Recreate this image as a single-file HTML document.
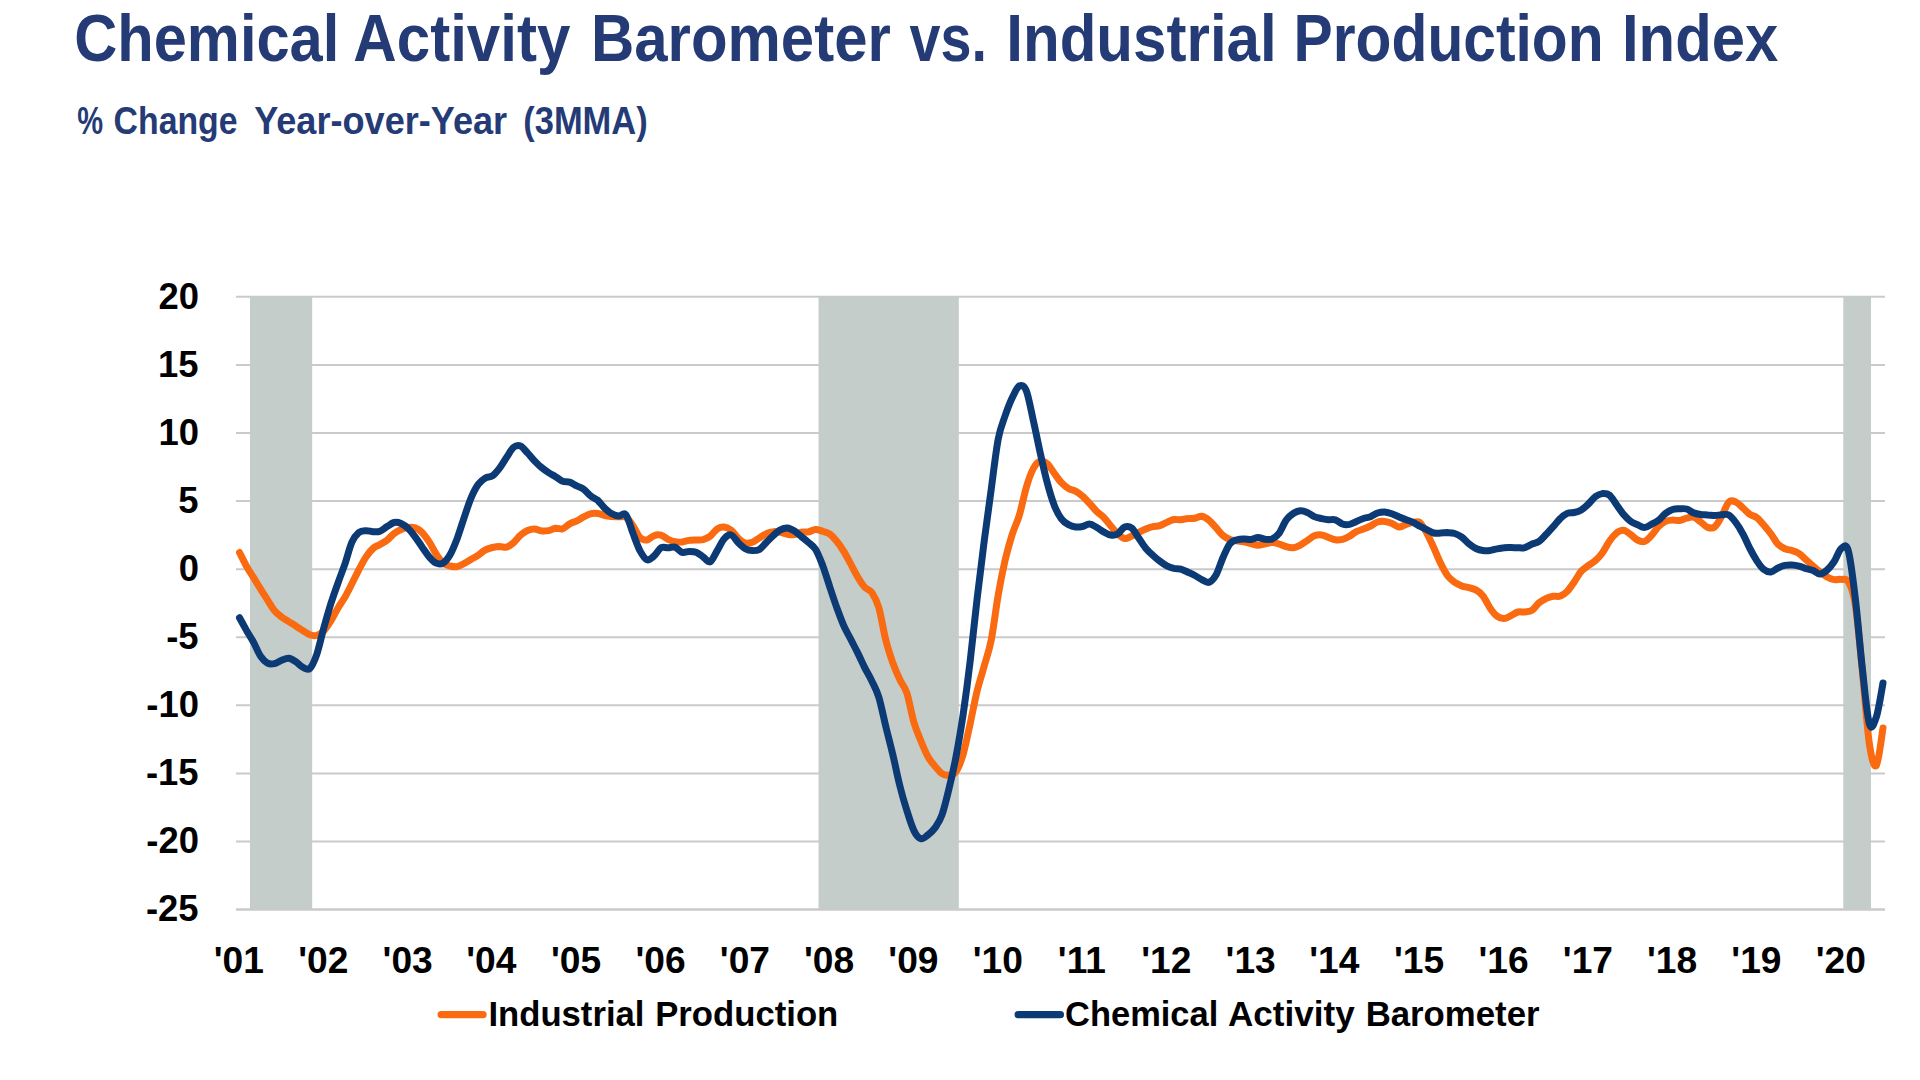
<!DOCTYPE html>
<html lang="en"><head><meta charset="utf-8"><title>Chemical Activity Barometer vs. Industrial Production Index</title>
<style>html,body{margin:0;padding:0;background:#fff}body{width:1920px;height:1080px;overflow:hidden}svg{display:block;font-family:"Liberation Sans",sans-serif}text{white-space:pre}</style></head><body>
<svg width="1920" height="1080" viewBox="0 0 1920 1080">
<rect width="1920" height="1080" fill="#fff"/>
<g stroke="#cacaca" stroke-width="2" fill="none">
<line x1="236" y1="296.80" x2="1885" y2="296.80"/>
<line x1="236" y1="364.89" x2="1885" y2="364.89"/>
<line x1="236" y1="432.98" x2="1885" y2="432.98"/>
<line x1="236" y1="501.07" x2="1885" y2="501.07"/>
<line x1="236" y1="569.16" x2="1885" y2="569.16"/>
<line x1="236" y1="637.25" x2="1885" y2="637.25"/>
<line x1="236" y1="705.34" x2="1885" y2="705.34"/>
<line x1="236" y1="773.43" x2="1885" y2="773.43"/>
<line x1="236" y1="841.52" x2="1885" y2="841.52"/>
<line x1="236" y1="909.61" x2="1885" y2="909.61"/>
</g>
<g fill="#c5cdca">
<rect x="250" y="296.6" width="62.2" height="613.2"/>
<rect x="818.5" y="296.6" width="140.3" height="613.2"/>
<rect x="1843.3" y="296.6" width="27.7" height="613.2"/>
</g>
<line x1="236" y1="909.61" x2="1885" y2="909.61" stroke="#cacaca" stroke-width="2"/>
<path d="M239.5 552.5C240.7 554.8 244.2 562.0 246.5 566.2C248.9 570.4 251.2 573.8 253.6 577.6C255.9 581.4 258.2 585.3 260.6 589.1C262.9 592.8 265.3 596.5 267.6 600.1C269.9 603.8 272.3 607.9 274.6 610.7C277.0 613.5 279.3 615.1 281.6 617.0C284.0 618.8 286.3 620.1 288.7 621.6C291.0 623.0 293.4 624.4 295.7 625.9C298.0 627.3 300.4 629.0 302.7 630.5C305.1 632.0 307.4 634.0 309.8 634.8C312.1 635.6 314.4 636.0 316.8 635.4C319.1 634.7 321.5 633.2 323.8 630.8C326.1 628.4 328.5 624.8 330.8 621.0C333.2 617.2 335.5 612.2 337.9 608.2C340.2 604.2 342.5 601.2 344.9 597.2C347.2 593.1 349.6 588.3 351.9 583.7C354.2 579.1 356.6 574.1 358.9 569.6C361.3 565.2 363.6 560.7 365.9 557.2C368.3 553.6 370.6 550.6 373.0 548.5C375.3 546.4 377.7 545.9 380.0 544.5C382.3 543.1 384.7 542.1 387.0 540.3C389.4 538.4 391.7 535.3 394.1 533.5C396.4 531.6 398.7 530.5 401.1 529.5C403.4 528.5 405.8 527.7 408.1 527.4C410.4 527.2 412.8 527.0 415.1 527.8C417.5 528.7 419.8 530.2 422.1 532.5C424.5 534.9 426.8 538.3 429.2 541.9C431.5 545.5 433.9 550.5 436.2 554.1C438.5 557.6 440.9 561.2 443.2 563.2C445.6 565.2 447.9 565.5 450.2 566.0C452.6 566.6 454.9 567.0 457.3 566.6C459.6 566.2 462.0 564.6 464.3 563.4C466.6 562.2 469.0 560.6 471.3 559.2C473.7 557.9 476.0 556.7 478.4 555.1C480.7 553.5 483.0 551.1 485.4 549.9C487.7 548.6 490.1 548.1 492.4 547.5C494.7 547.0 497.1 546.5 499.4 546.4C501.8 546.4 504.1 547.8 506.4 547.2C508.8 546.6 511.1 544.7 513.5 542.7C515.8 540.7 518.2 537.2 520.5 535.2C522.8 533.1 525.2 531.5 527.5 530.5C529.9 529.5 532.2 528.9 534.5 529.0C536.9 529.1 539.2 530.6 541.6 530.9C543.9 531.1 546.3 531.0 548.6 530.6C550.9 530.2 553.3 528.6 555.6 528.2C558.0 527.9 560.3 529.5 562.6 528.8C565.0 528.0 567.3 525.1 569.7 523.8C572.0 522.5 574.4 522.1 576.7 521.0C579.0 519.8 581.4 518.1 583.7 516.9C586.1 515.7 588.4 514.2 590.8 513.7C593.1 513.1 595.4 513.2 597.8 513.5C600.1 513.8 602.5 514.9 604.8 515.5C607.1 516.0 609.5 516.3 611.8 516.6C614.2 516.8 616.5 516.7 618.9 516.8C621.2 516.9 623.5 515.8 625.9 517.3C628.2 518.8 630.6 522.3 632.9 525.7C635.2 529.0 637.6 535.0 639.9 537.4C642.3 539.8 644.6 540.3 647.0 540.0C649.3 539.7 651.6 536.5 654.0 535.7C656.3 534.8 658.7 534.5 661.0 535.1C663.3 535.7 665.7 538.2 668.0 539.3C670.4 540.4 672.7 541.4 675.0 541.8C677.4 542.2 679.7 542.2 682.1 542.0C684.4 541.7 686.8 540.7 689.1 540.4C691.4 540.1 693.8 540.1 696.1 540.0C698.5 539.9 700.8 540.3 703.1 539.7C705.5 539.0 707.8 537.9 710.2 536.1C712.5 534.3 714.9 530.5 717.2 529.0C719.5 527.6 721.9 526.9 724.2 527.1C726.6 527.3 728.9 528.4 731.2 530.2C733.6 532.1 735.9 536.1 738.3 538.3C740.6 540.4 743.0 542.4 745.3 543.1C747.6 543.7 750.0 543.2 752.3 542.3C754.7 541.5 757.0 539.3 759.4 537.9C761.7 536.5 764.0 534.7 766.4 533.7C768.7 532.6 771.1 531.9 773.4 531.7C775.7 531.4 778.1 531.8 780.4 532.2C782.8 532.7 785.1 533.9 787.5 534.3C789.8 534.7 792.1 535.0 794.5 534.6C796.8 534.2 799.2 532.6 801.5 532.1C803.8 531.6 806.2 532.3 808.5 531.9C810.9 531.4 813.2 529.6 815.5 529.5C817.9 529.4 820.2 530.5 822.6 531.2C824.9 532.0 827.3 532.3 829.6 533.9C831.9 535.6 834.3 538.2 836.6 541.1C839.0 543.9 841.3 547.3 843.6 551.1C846.0 554.9 848.3 559.5 850.7 563.9C853.0 568.2 855.4 573.1 857.7 577.0C860.0 580.9 862.4 584.6 864.7 587.2C867.1 589.8 869.4 589.2 871.8 592.6C874.1 596.0 876.4 599.7 878.8 607.6C881.1 615.5 883.5 630.9 885.8 640.1C888.1 649.3 890.5 656.2 892.8 662.8C895.2 669.4 897.5 674.6 899.9 679.7C902.2 684.8 904.5 686.0 906.9 693.1C909.2 700.2 911.6 714.4 913.9 722.3C916.2 730.3 918.6 735.3 920.9 741.0C923.3 746.8 925.6 752.6 928.0 756.8C930.3 761.0 932.6 763.4 935.0 766.2C937.3 769.0 939.7 772.1 942.0 773.6C944.3 775.1 946.7 775.5 949.0 775.2C951.4 774.9 953.7 775.2 956.0 771.7C958.4 768.3 960.7 762.5 963.1 754.6C965.4 746.6 967.8 734.5 970.1 723.9C972.4 713.3 974.8 700.6 977.1 691.0C979.5 681.5 981.8 674.8 984.1 666.3C986.5 657.8 988.8 652.1 991.2 640.2C993.5 628.3 995.9 608.5 998.2 595.1C1000.5 581.7 1002.9 569.9 1005.2 559.8C1007.6 549.7 1009.9 541.8 1012.2 534.4C1014.6 527.0 1016.9 523.2 1019.3 515.4C1021.6 507.6 1024.0 495.2 1026.3 487.4C1028.6 479.5 1031.0 472.9 1033.3 468.5C1035.7 464.1 1038.0 461.9 1040.3 461.2C1042.7 460.4 1045.0 461.9 1047.4 463.9C1049.7 466.0 1052.1 470.4 1054.4 473.5C1056.7 476.6 1059.1 480.2 1061.4 482.7C1063.8 485.2 1066.1 487.2 1068.5 488.6C1070.8 490.0 1073.1 489.8 1075.5 491.1C1077.8 492.3 1080.2 494.2 1082.5 496.2C1084.8 498.3 1087.2 500.9 1089.5 503.4C1091.9 505.9 1094.2 508.9 1096.5 511.2C1098.9 513.6 1101.2 514.9 1103.6 517.3C1105.9 519.7 1108.3 522.8 1110.6 525.6C1112.9 528.3 1115.3 531.7 1117.6 533.9C1120.0 536.0 1122.3 538.2 1124.7 538.6C1127.0 538.9 1129.3 537.0 1131.7 536.0C1134.0 535.0 1136.4 533.7 1138.7 532.5C1141.0 531.3 1143.4 530.0 1145.7 529.0C1148.1 528.0 1150.4 527.1 1152.8 526.6C1155.1 526.0 1157.4 526.3 1159.8 525.6C1162.1 525.0 1164.5 523.4 1166.8 522.4C1169.1 521.4 1171.5 519.9 1173.8 519.5C1176.2 519.1 1178.5 519.9 1180.8 519.8C1183.2 519.6 1185.5 518.8 1187.9 518.6C1190.2 518.3 1192.6 518.7 1194.9 518.3C1197.2 517.9 1199.6 516.0 1201.9 516.3C1204.3 516.7 1206.6 518.3 1209.0 520.2C1211.3 522.1 1213.6 525.1 1216.0 527.7C1218.3 530.2 1220.7 533.5 1223.0 535.5C1225.3 537.5 1227.7 538.6 1230.0 539.5C1232.4 540.4 1234.7 540.4 1237.0 540.8C1239.4 541.2 1241.7 541.4 1244.1 541.9C1246.4 542.4 1248.8 543.1 1251.1 543.7C1253.4 544.3 1255.8 545.3 1258.1 545.3C1260.5 545.3 1262.8 544.3 1265.2 543.8C1267.5 543.3 1269.8 542.4 1272.2 542.4C1274.5 542.4 1276.9 543.2 1279.2 544.0C1281.5 544.7 1283.9 546.1 1286.2 546.7C1288.6 547.4 1290.9 548.0 1293.2 547.7C1295.6 547.5 1297.9 546.3 1300.3 545.1C1302.6 543.9 1305.0 542.1 1307.3 540.5C1309.6 539.0 1312.0 536.8 1314.3 535.8C1316.7 534.9 1319.0 534.7 1321.3 534.9C1323.7 535.2 1326.0 536.5 1328.4 537.4C1330.7 538.2 1333.1 539.5 1335.4 539.8C1337.7 540.1 1340.1 539.9 1342.4 539.4C1344.8 538.8 1347.1 537.5 1349.5 536.2C1351.8 534.9 1354.1 532.6 1356.5 531.5C1358.8 530.3 1361.2 530.0 1363.5 529.1C1365.8 528.2 1368.2 527.1 1370.5 526.0C1372.9 524.8 1375.2 522.7 1377.5 522.0C1379.9 521.2 1382.2 521.2 1384.6 521.4C1386.9 521.6 1389.3 522.3 1391.6 523.2C1393.9 524.1 1396.3 526.7 1398.6 526.9C1401.0 527.2 1403.3 525.4 1405.7 524.7C1408.0 524.0 1410.3 522.8 1412.7 522.5C1415.0 522.1 1417.4 520.7 1419.7 522.4C1422.0 524.2 1424.4 528.6 1426.7 532.9C1429.1 537.1 1431.4 542.6 1433.8 547.8C1436.1 552.9 1438.4 559.0 1440.8 563.7C1443.1 568.4 1445.5 572.9 1447.8 576.0C1450.1 579.1 1452.5 580.7 1454.8 582.4C1457.2 584.0 1459.5 585.0 1461.8 585.9C1464.2 586.8 1466.5 587.1 1468.9 587.7C1471.2 588.4 1473.6 588.6 1475.9 589.9C1478.2 591.2 1480.6 592.8 1482.9 595.8C1485.3 598.8 1487.6 604.5 1490.0 607.9C1492.3 611.3 1494.6 614.3 1497.0 616.1C1499.3 617.9 1501.7 618.7 1504.0 618.6C1506.3 618.6 1508.7 616.8 1511.0 615.7C1513.4 614.6 1515.7 612.6 1518.0 612.0C1520.4 611.4 1522.7 612.3 1525.1 612.0C1527.4 611.7 1529.8 611.8 1532.1 610.2C1534.4 608.7 1536.8 604.6 1539.1 602.7C1541.5 600.7 1543.8 599.4 1546.2 598.4C1548.5 597.3 1550.8 596.6 1553.2 596.2C1555.5 595.9 1557.9 597.0 1560.2 596.1C1562.5 595.3 1564.9 593.7 1567.2 591.3C1569.6 589.0 1571.9 585.2 1574.2 581.9C1576.6 578.5 1578.9 573.9 1581.3 571.2C1583.6 568.5 1586.0 567.3 1588.3 565.5C1590.6 563.8 1593.0 562.8 1595.3 560.7C1597.7 558.6 1600.0 556.2 1602.3 553.0C1604.7 549.7 1607.0 544.6 1609.4 541.2C1611.7 537.9 1614.1 535.0 1616.4 533.1C1618.7 531.3 1621.1 530.1 1623.4 530.3C1625.8 530.5 1628.1 532.7 1630.5 534.4C1632.8 536.0 1635.1 538.8 1637.5 540.0C1639.8 541.2 1642.2 542.2 1644.5 541.5C1646.8 540.7 1649.2 537.9 1651.5 535.4C1653.9 532.9 1656.2 528.8 1658.5 526.5C1660.9 524.1 1663.2 522.3 1665.6 521.3C1667.9 520.2 1670.3 520.2 1672.6 520.1C1674.9 520.0 1677.3 520.9 1679.6 520.5C1682.0 520.2 1684.3 518.6 1686.7 518.1C1689.0 517.5 1691.3 516.6 1693.7 517.2C1696.0 517.9 1698.4 520.3 1700.7 522.0C1703.0 523.6 1705.4 526.6 1707.7 527.4C1710.1 528.2 1712.4 528.7 1714.8 526.9C1717.1 525.0 1719.4 520.2 1721.8 516.1C1724.1 511.9 1726.5 504.4 1728.8 502.1C1731.1 499.7 1733.5 501.0 1735.8 502.0C1738.2 502.9 1740.5 505.8 1742.8 507.9C1745.2 509.9 1747.5 512.7 1749.9 514.4C1752.2 516.0 1754.6 515.9 1756.9 517.7C1759.2 519.5 1761.6 522.5 1763.9 525.2C1766.3 527.9 1768.6 530.8 1771.0 534.0C1773.3 537.1 1775.6 541.8 1778.0 544.2C1780.3 546.7 1782.7 547.7 1785.0 548.8C1787.3 549.8 1789.7 549.8 1792.0 550.5C1794.4 551.3 1796.7 551.9 1799.0 553.5C1801.4 555.0 1803.7 557.7 1806.1 559.8C1808.4 561.9 1810.8 564.1 1813.1 566.1C1815.4 568.2 1817.8 570.2 1820.1 572.0C1822.5 573.8 1824.8 575.8 1827.2 577.0C1829.5 578.3 1831.8 579.2 1834.2 579.6C1836.5 580.0 1838.9 579.1 1841.2 579.4C1843.5 579.8 1845.9 577.6 1848.2 581.6C1850.6 585.7 1852.9 589.2 1855.2 604.0C1857.6 618.8 1859.9 647.1 1862.3 670.3C1864.6 693.5 1867.0 727.4 1869.3 743.2C1871.6 759.1 1874.0 768.2 1876.3 765.7C1878.6 763.1 1881.9 734.3 1883.0 728.0" fill="none" stroke="#fa6a10" stroke-width="7" stroke-linecap="round" stroke-linejoin="round"/>
<path d="M239.5 617.7C240.7 619.8 244.2 626.3 246.5 630.4C248.9 634.5 251.2 638.1 253.6 642.4C255.9 646.6 258.2 652.7 260.6 656.2C262.9 659.6 265.3 661.9 267.6 663.2C269.9 664.4 272.3 664.1 274.6 663.6C277.0 663.1 279.3 661.1 281.6 660.2C284.0 659.3 286.3 658.1 288.7 658.3C291.0 658.5 293.4 660.1 295.7 661.6C298.0 663.1 300.4 666.0 302.7 667.1C305.1 668.3 307.4 670.6 309.8 668.5C312.1 666.4 314.4 661.1 316.8 654.3C319.1 647.5 321.5 636.2 323.8 627.8C326.1 619.3 328.5 611.2 330.8 603.7C333.2 596.3 335.5 589.8 337.9 583.2C340.2 576.6 342.5 570.9 344.9 564.1C347.2 557.3 349.6 547.5 351.9 542.2C354.2 536.9 356.6 534.4 358.9 532.4C361.3 530.5 363.6 530.8 365.9 530.7C368.3 530.5 370.6 531.6 373.0 531.7C375.3 531.8 377.7 532.1 380.0 531.2C382.3 530.4 384.7 528.0 387.0 526.6C389.4 525.1 391.7 523.1 394.1 522.5C396.4 522.0 398.7 522.4 401.1 523.4C403.4 524.4 405.8 526.2 408.1 528.4C410.4 530.7 412.8 533.7 415.1 536.8C417.5 539.9 419.8 543.6 422.1 547.0C424.5 550.3 426.8 554.1 429.2 556.8C431.5 559.5 433.9 562.1 436.2 563.1C438.5 564.1 440.9 564.3 443.2 562.9C445.6 561.4 447.9 558.6 450.2 554.5C452.6 550.4 454.9 544.4 457.3 538.2C459.6 531.9 462.0 523.9 464.3 517.1C466.6 510.3 469.0 502.8 471.3 497.4C473.7 491.9 476.0 487.4 478.4 484.2C480.7 481.0 483.0 479.3 485.4 477.9C487.7 476.6 490.1 477.5 492.4 475.9C494.7 474.3 497.1 471.4 499.4 468.4C501.8 465.3 504.1 461.2 506.4 457.7C508.8 454.2 511.1 449.4 513.5 447.4C515.8 445.5 518.2 445.1 520.5 446.0C522.8 447.0 525.2 450.5 527.5 452.9C529.9 455.4 532.2 458.4 534.5 460.8C536.9 463.2 539.2 465.5 541.6 467.5C543.9 469.4 546.3 471.1 548.6 472.6C550.9 474.2 553.3 475.2 555.6 476.7C558.0 478.1 560.3 480.3 562.6 481.2C565.0 482.1 567.3 481.4 569.7 482.1C572.0 482.9 574.4 484.7 576.7 485.9C579.0 487.1 581.4 487.5 583.7 489.2C586.1 490.9 588.4 494.2 590.8 496.1C593.1 497.9 595.4 498.3 597.8 500.3C600.1 502.4 602.5 506.1 604.8 508.3C607.1 510.6 609.5 512.4 611.8 513.7C614.2 515.0 616.5 515.9 618.9 516.1C621.2 516.3 623.5 511.9 625.9 514.7C628.2 517.5 630.6 527.1 632.9 533.1C635.2 539.1 637.6 546.1 639.9 550.6C642.3 555.0 644.6 558.9 647.0 559.8C649.3 560.7 651.6 558.0 654.0 556.0C656.3 554.0 658.7 549.2 661.0 547.8C663.3 546.4 665.7 547.9 668.0 547.8C670.4 547.7 672.7 546.4 675.0 547.1C677.4 547.9 679.7 551.6 682.1 552.3C684.4 553.0 686.8 551.5 689.1 551.4C691.4 551.4 693.8 551.3 696.1 552.2C698.5 553.1 700.8 555.3 703.1 556.9C705.5 558.5 707.8 562.8 710.2 561.8C712.5 560.7 714.9 554.4 717.2 550.6C719.5 546.8 721.9 541.3 724.2 538.7C726.6 536.1 728.9 534.3 731.2 535.0C733.6 535.7 735.9 540.4 738.3 542.7C740.6 545.0 743.0 547.4 745.3 548.7C747.6 550.0 750.0 550.5 752.3 550.6C754.7 550.7 757.0 550.8 759.4 549.4C761.7 548.0 764.0 544.7 766.4 542.4C768.7 540.1 771.1 537.6 773.4 535.5C775.7 533.4 778.1 531.1 780.4 529.9C782.8 528.6 785.1 527.8 787.5 528.0C789.8 528.2 792.1 529.6 794.5 531.0C796.8 532.5 799.2 534.8 801.5 536.7C803.8 538.6 806.2 540.4 808.5 542.5C810.9 544.6 813.2 545.5 815.5 549.3C817.9 553.1 820.2 559.1 822.6 565.2C824.9 571.4 827.3 579.3 829.6 586.3C831.9 593.3 834.3 600.7 836.6 607.2C839.0 613.7 841.3 620.1 843.6 625.4C846.0 630.8 848.3 634.6 850.7 639.2C853.0 643.8 855.4 648.2 857.7 652.9C860.0 657.6 862.4 662.9 864.7 667.6C867.1 672.3 869.4 675.9 871.8 680.9C874.1 685.8 876.4 689.5 878.8 697.1C881.1 704.8 883.5 716.9 885.8 726.5C888.1 736.1 890.5 744.7 892.8 754.6C895.2 764.5 897.5 776.7 899.9 786.0C902.2 795.4 904.5 803.2 906.9 810.6C909.2 818.0 911.6 825.9 913.9 830.6C916.2 835.3 918.6 838.0 920.9 838.7C923.3 839.4 925.6 836.7 928.0 834.9C930.3 833.0 932.6 831.2 935.0 827.9C937.3 824.5 939.7 821.3 942.0 814.8C944.3 808.2 946.7 798.3 949.0 788.6C951.4 778.9 953.7 768.9 956.0 756.6C958.4 744.3 960.7 730.7 963.1 714.8C965.4 699.0 967.8 681.0 970.1 661.6C972.4 642.3 974.8 618.7 977.1 598.8C979.5 578.8 981.8 560.1 984.1 541.9C986.5 523.7 988.8 506.5 991.2 489.4C993.5 472.3 995.9 451.6 998.2 439.2C1000.5 426.9 1002.9 422.4 1005.2 415.5C1007.6 408.6 1009.9 402.7 1012.2 397.8C1014.6 392.9 1016.9 387.2 1019.3 386.0C1021.6 384.8 1024.0 385.0 1026.3 390.8C1028.6 396.5 1031.0 410.1 1033.3 420.5C1035.7 430.9 1038.0 442.8 1040.3 453.3C1042.7 463.8 1045.0 474.6 1047.4 483.3C1049.7 492.0 1052.1 499.8 1054.4 505.7C1056.7 511.6 1059.1 515.8 1061.4 518.9C1063.8 522.1 1066.1 523.4 1068.5 524.7C1070.8 526.0 1073.1 526.7 1075.5 527.0C1077.8 527.3 1080.2 527.0 1082.5 526.5C1084.8 526.0 1087.2 523.9 1089.5 524.1C1091.9 524.2 1094.2 526.0 1096.5 527.3C1098.9 528.6 1101.2 530.5 1103.6 531.8C1105.9 533.1 1108.3 534.7 1110.6 535.0C1112.9 535.4 1115.3 535.3 1117.6 534.0C1120.0 532.6 1122.3 527.9 1124.7 526.9C1127.0 526.0 1129.3 526.2 1131.7 528.1C1134.0 530.0 1136.4 534.7 1138.7 538.0C1141.0 541.4 1143.4 545.4 1145.7 548.2C1148.1 551.1 1150.4 553.1 1152.8 555.2C1155.1 557.4 1157.4 559.3 1159.8 561.1C1162.1 562.8 1164.5 564.6 1166.8 565.8C1169.1 567.0 1171.5 567.8 1173.8 568.4C1176.2 568.9 1178.5 568.5 1180.8 569.1C1183.2 569.8 1185.5 571.1 1187.9 572.2C1190.2 573.2 1192.6 574.2 1194.9 575.5C1197.2 576.7 1199.6 578.5 1201.9 579.7C1204.3 580.8 1206.6 583.1 1209.0 582.3C1211.3 581.6 1213.6 579.2 1216.0 575.1C1218.3 570.9 1220.7 562.7 1223.0 557.5C1225.3 552.3 1227.7 546.7 1230.0 543.7C1232.4 540.8 1234.7 540.6 1237.0 539.8C1239.4 539.1 1241.7 539.1 1244.1 539.0C1246.4 538.9 1248.8 539.7 1251.1 539.5C1253.4 539.2 1255.8 537.6 1258.1 537.5C1260.5 537.5 1262.8 539.1 1265.2 539.3C1267.5 539.5 1269.8 539.9 1272.2 538.9C1274.5 537.8 1276.9 536.2 1279.2 533.1C1281.5 529.9 1283.9 523.3 1286.2 520.0C1288.6 516.8 1290.9 515.0 1293.2 513.5C1295.6 511.9 1297.9 511.0 1300.3 510.8C1302.6 510.6 1305.0 511.5 1307.3 512.5C1309.6 513.4 1312.0 515.6 1314.3 516.6C1316.7 517.6 1319.0 518.0 1321.3 518.5C1323.7 519.0 1326.0 519.5 1328.4 519.7C1330.7 519.9 1333.1 519.1 1335.4 519.8C1337.7 520.5 1340.1 523.2 1342.4 524.0C1344.8 524.8 1347.1 524.8 1349.5 524.4C1351.8 523.9 1354.1 522.4 1356.5 521.4C1358.8 520.4 1361.2 519.3 1363.5 518.5C1365.8 517.7 1368.2 517.6 1370.5 516.7C1372.9 515.8 1375.2 513.8 1377.5 513.0C1379.9 512.2 1382.2 511.8 1384.6 511.9C1386.9 512.0 1389.3 512.9 1391.6 513.7C1393.9 514.5 1396.3 515.7 1398.6 516.7C1401.0 517.7 1403.3 518.6 1405.7 519.5C1408.0 520.4 1410.3 521.0 1412.7 522.1C1415.0 523.2 1417.4 524.8 1419.7 526.1C1422.0 527.3 1424.4 528.5 1426.7 529.6C1429.1 530.8 1431.4 532.4 1433.8 533.0C1436.1 533.6 1438.4 533.1 1440.8 533.0C1443.1 532.9 1445.5 532.6 1447.8 532.6C1450.1 532.7 1452.5 532.7 1454.8 533.5C1457.2 534.2 1459.5 535.4 1461.8 537.1C1464.2 538.8 1466.5 541.9 1468.9 543.8C1471.2 545.7 1473.6 547.4 1475.9 548.5C1478.2 549.6 1480.6 550.2 1482.9 550.5C1485.3 550.8 1487.6 550.8 1490.0 550.5C1492.3 550.2 1494.6 549.3 1497.0 548.9C1499.3 548.4 1501.7 547.9 1504.0 547.7C1506.3 547.4 1508.7 547.5 1511.0 547.5C1513.4 547.5 1515.7 547.8 1518.0 547.8C1520.4 547.8 1522.7 548.2 1525.1 547.5C1527.4 546.9 1529.8 545.0 1532.1 544.0C1534.4 542.9 1536.8 543.0 1539.1 541.4C1541.5 539.8 1543.8 536.7 1546.2 534.3C1548.5 531.8 1550.8 529.3 1553.2 526.7C1555.5 524.1 1557.9 520.8 1560.2 518.6C1562.5 516.3 1564.9 514.4 1567.2 513.4C1569.6 512.3 1571.9 513.1 1574.2 512.5C1576.6 512.0 1578.9 511.4 1581.3 510.0C1583.6 508.6 1586.0 506.3 1588.3 504.1C1590.6 501.9 1593.0 498.5 1595.3 496.7C1597.7 495.0 1600.0 493.9 1602.3 493.6C1604.7 493.4 1607.0 493.3 1609.4 495.1C1611.7 496.9 1614.1 501.3 1616.4 504.5C1618.7 507.7 1621.1 511.5 1623.4 514.3C1625.8 517.1 1628.1 519.4 1630.5 521.2C1632.8 522.9 1635.1 523.7 1637.5 524.7C1639.8 525.8 1642.2 527.7 1644.5 527.6C1646.8 527.6 1649.2 525.5 1651.5 524.2C1653.9 523.0 1656.2 522.0 1658.5 520.2C1660.9 518.4 1663.2 515.2 1665.6 513.4C1667.9 511.6 1670.3 510.3 1672.6 509.5C1674.9 508.7 1677.3 508.9 1679.6 508.8C1682.0 508.7 1684.3 508.3 1686.7 509.0C1689.0 509.7 1691.3 512.0 1693.7 512.9C1696.0 513.8 1698.4 514.2 1700.7 514.5C1703.0 514.8 1705.4 514.7 1707.7 514.9C1710.1 515.0 1712.4 515.5 1714.8 515.5C1717.1 515.5 1719.4 514.9 1721.8 514.8C1724.1 514.7 1726.5 513.7 1728.8 515.0C1731.1 516.3 1733.5 519.4 1735.8 522.5C1738.2 525.6 1740.5 529.4 1742.8 533.8C1745.2 538.1 1747.5 544.0 1749.9 548.5C1752.2 553.0 1754.6 557.3 1756.9 560.8C1759.2 564.3 1761.6 567.7 1763.9 569.5C1766.3 571.4 1768.6 572.2 1771.0 571.9C1773.3 571.7 1775.6 569.1 1778.0 568.0C1780.3 566.9 1782.7 565.9 1785.0 565.4C1787.3 564.9 1789.7 564.9 1792.0 565.0C1794.4 565.1 1796.7 565.5 1799.0 566.1C1801.4 566.7 1803.7 567.9 1806.1 568.7C1808.4 569.4 1810.8 569.6 1813.1 570.5C1815.4 571.4 1817.8 574.1 1820.1 574.0C1822.5 573.9 1824.8 572.1 1827.2 570.0C1829.5 568.0 1831.8 565.1 1834.2 561.5C1836.5 558.0 1838.9 550.4 1841.2 548.5C1843.5 546.7 1845.9 542.4 1848.2 550.5C1850.6 558.7 1852.9 578.0 1855.2 597.5C1857.6 617.0 1859.9 646.7 1862.3 667.8C1864.6 688.8 1867.0 715.5 1869.3 723.7C1871.6 731.9 1874.0 723.9 1876.3 717.1C1878.6 710.3 1881.9 688.7 1883.0 683.0" fill="none" stroke="#0c3a75" stroke-width="7" stroke-linecap="round" stroke-linejoin="round"/>
<line x1="441.2" y1="1014.7" x2="483" y2="1014.7" stroke="#fa6a10" stroke-width="7.3" stroke-linecap="round"/>
<line x1="1018.2" y1="1014.7" x2="1060.4" y2="1014.7" stroke="#0c3a75" stroke-width="7.3" stroke-linecap="round"/>
<g font-weight="bold">
<text y="60.7" font-size="66" fill="#253b76"><tspan x="74.23" textLength="265.12" lengthAdjust="spacingAndGlyphs">Chemical</tspan> <tspan x="353.33" textLength="217.05" lengthAdjust="spacingAndGlyphs">Activity</tspan> <tspan x="590.97" textLength="299.89" lengthAdjust="spacingAndGlyphs">Barometer</tspan> <tspan x="909.62" textLength="77.45" lengthAdjust="spacingAndGlyphs">vs.</tspan> <tspan x="1006.26" textLength="270.46" lengthAdjust="spacingAndGlyphs">Industrial</tspan> <tspan x="1293.55" textLength="310.09" lengthAdjust="spacingAndGlyphs">Production</tspan> <tspan x="1621.98" textLength="156.24" lengthAdjust="spacingAndGlyphs">Index</tspan></text>
<text y="133.9" font-size="38.8" fill="#253b76"><tspan x="77.25" textLength="25.85" lengthAdjust="spacingAndGlyphs">%</tspan> <tspan x="113.59" textLength="123.98" lengthAdjust="spacingAndGlyphs">Change</tspan> <tspan x="254.16" textLength="253.02" lengthAdjust="spacingAndGlyphs">Year-over-Year</tspan> <tspan x="523.25" textLength="124.42" lengthAdjust="spacingAndGlyphs">(3MMA)</tspan></text>
<text y="1025.5" font-size="35.4" fill="#000"><tspan x="488.41" textLength="156.02" lengthAdjust="spacingAndGlyphs">Industrial</tspan> <tspan x="655.16" textLength="183.18" lengthAdjust="spacingAndGlyphs">Production</tspan></text>
<text y="1025.5" font-size="35.4" fill="#000"><tspan x="1065.05" textLength="153.24" lengthAdjust="spacingAndGlyphs">Chemical</tspan> <tspan x="1228.03" textLength="126.66" lengthAdjust="spacingAndGlyphs">Activity</tspan> <tspan x="1365.65" textLength="173.89" lengthAdjust="spacingAndGlyphs">Barometer</tspan></text>
<text x="158.52" y="308.6" font-size="36" fill="#000" textLength="40.53" lengthAdjust="spacingAndGlyphs">20</text>
<text x="158.09" y="376.69" font-size="36" fill="#000" textLength="40.53" lengthAdjust="spacingAndGlyphs">15</text>
<text x="158.52" y="444.78" font-size="36" fill="#000" textLength="40.53" lengthAdjust="spacingAndGlyphs">10</text>
<text x="178.33" y="512.87" font-size="36" fill="#000" textLength="20.27" lengthAdjust="spacingAndGlyphs">5</text>
<text x="178.76" y="580.96" font-size="36" fill="#000" textLength="20.27" lengthAdjust="spacingAndGlyphs">0</text>
<text x="166.18" y="649.05" font-size="36" fill="#000" textLength="32.40" lengthAdjust="spacingAndGlyphs">-5</text>
<text x="146.38" y="717.14" font-size="36" fill="#000" textLength="52.66" lengthAdjust="spacingAndGlyphs">-10</text>
<text x="145.94" y="785.23" font-size="36" fill="#000" textLength="52.66" lengthAdjust="spacingAndGlyphs">-15</text>
<text x="146.38" y="853.32" font-size="36" fill="#000" textLength="52.66" lengthAdjust="spacingAndGlyphs">-20</text>
<text x="145.94" y="921.41" font-size="36" fill="#000" textLength="52.66" lengthAdjust="spacingAndGlyphs">-25</text>
<text x="213.77" y="973.3" font-size="36" fill="#000" textLength="50.16" lengthAdjust="spacingAndGlyphs">'01</text>
<text x="298.29" y="973.3" font-size="36" fill="#000" textLength="50.16" lengthAdjust="spacingAndGlyphs">'02</text>
<text x="382.55" y="973.3" font-size="36" fill="#000" textLength="50.16" lengthAdjust="spacingAndGlyphs">'03</text>
<text x="466.25" y="973.3" font-size="36" fill="#000" textLength="50.16" lengthAdjust="spacingAndGlyphs">'04</text>
<text x="551.00" y="973.3" font-size="36" fill="#000" textLength="50.16" lengthAdjust="spacingAndGlyphs">'05</text>
<text x="635.45" y="973.3" font-size="36" fill="#000" textLength="50.16" lengthAdjust="spacingAndGlyphs">'06</text>
<text x="719.87" y="973.3" font-size="36" fill="#000" textLength="50.16" lengthAdjust="spacingAndGlyphs">'07</text>
<text x="803.94" y="973.3" font-size="36" fill="#000" textLength="50.16" lengthAdjust="spacingAndGlyphs">'08</text>
<text x="888.35" y="973.3" font-size="36" fill="#000" textLength="50.16" lengthAdjust="spacingAndGlyphs">'09</text>
<text x="972.72" y="973.3" font-size="36" fill="#000" textLength="50.16" lengthAdjust="spacingAndGlyphs">'10</text>
<text x="1057.80" y="973.3" font-size="36" fill="#000" textLength="48.12" lengthAdjust="spacingAndGlyphs">'11</text>
<text x="1141.29" y="973.3" font-size="36" fill="#000" textLength="50.16" lengthAdjust="spacingAndGlyphs">'12</text>
<text x="1225.55" y="973.3" font-size="36" fill="#000" textLength="50.16" lengthAdjust="spacingAndGlyphs">'13</text>
<text x="1309.25" y="973.3" font-size="36" fill="#000" textLength="50.16" lengthAdjust="spacingAndGlyphs">'14</text>
<text x="1394.00" y="973.3" font-size="36" fill="#000" textLength="50.16" lengthAdjust="spacingAndGlyphs">'15</text>
<text x="1478.45" y="973.3" font-size="36" fill="#000" textLength="50.16" lengthAdjust="spacingAndGlyphs">'16</text>
<text x="1562.87" y="973.3" font-size="36" fill="#000" textLength="50.16" lengthAdjust="spacingAndGlyphs">'17</text>
<text x="1646.94" y="973.3" font-size="36" fill="#000" textLength="50.16" lengthAdjust="spacingAndGlyphs">'18</text>
<text x="1731.35" y="973.3" font-size="36" fill="#000" textLength="50.16" lengthAdjust="spacingAndGlyphs">'19</text>
<text x="1815.72" y="973.3" font-size="36" fill="#000" textLength="50.16" lengthAdjust="spacingAndGlyphs">'20</text>
</g>
</svg></body></html>
